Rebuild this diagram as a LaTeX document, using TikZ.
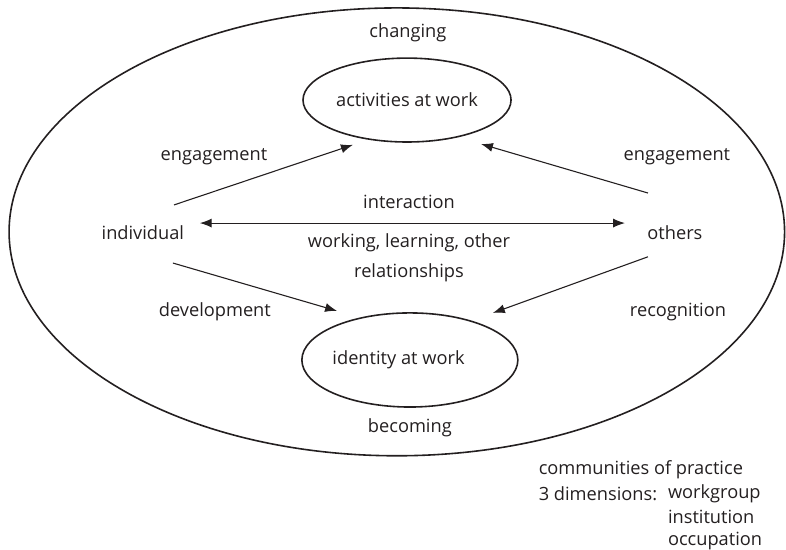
\documentclass[tikz,border=0pt]{standalone}
\usepackage{fontspec}
\setmainfont{Open Sans}
\usetikzlibrary{arrows.meta,shapes.geometric}
\definecolor{inkgrey}{HTML}{231F20}
\tikzset{
  ring/.style={draw=inkgrey,line width=1.6pt},
  arr/.style={draw=inkgrey,line width=1.1pt,-{Latex[length=4.2mm,width=3.2mm]}},
  darr/.style={draw=inkgrey,line width=1.1pt,{Latex[length=4.2mm,width=3.2mm]}-{Latex[length=4.2mm,width=3.2mm]}},
  lbl/.style={text=inkgrey,inner sep=0pt}
}
\begin{document}
\begin{tikzpicture}[font=\fontsize{18.3}{22}\selectfont]
            \useasboundingbox (0,0) rectangle (27.73,19.40);
            \draw[ring] (14.00,11.22) ellipse [x radius=13.68,y radius=7.90];
            \node[ring,ellipse,minimum width=7.34cm,minimum height=2.96cm,lbl] (act) at (14.36,15.87) {activities at work};
            \node[ring,ellipse,minimum width=7.62cm,minimum height=3.32cm,lbl] (ident) at (14.46,6.70) {\hspace*{-0.8cm}identity at work};
            \node[lbl] (chg) at (14.39,18.24) {changing};
            \node[lbl] (bec) at (14.46,4.30) {becoming};
            \node[lbl] (ind) at (5.04,11.18) {individual};
            \node[lbl] (oth) at (23.81,11.18) {others};
            \node[lbl] (engl) at (7.55,13.86) {engagement};
            \node[lbl] (engr) at (23.88,13.86) {engagement};
            \node[lbl] (devl) at (7.58,8.40) {development};
            \node[lbl] (recg) at (23.92,8.40) {recognition};
            \node[lbl] (inter) at (14.43,12.28) {interaction};
            \node[lbl] (wrk) at (14.43,10.83) {working, learning, other};
            \node[lbl] (rel) at (14.43,9.77) {relationships};
            % arrow ends
            \coordinate (ind-up) at (6.14,12.17);
            \coordinate (ind-mid) at (7.05,11.53);
            \coordinate (ind-dn) at (6.10,10.12);
            \coordinate (oth-up) at (22.86,12.59);
            \coordinate (oth-mid) at (22.05,11.53);
            \coordinate (oth-dn) at (22.86,10.34);
            \coordinate (act-l) at (12.45,14.29);
            \coordinate (act-r) at (16.97,14.32);
            \coordinate (ident-l) at (11.89,8.43);
            \coordinate (ident-r) at (17.39,8.36);
            \draw[arr] (ind-up) -- (act-l);
            \draw[arr] (oth-up) -- (act-r);
            \draw[darr] (ind-mid) -- (oth-mid);
            \draw[arr] (ind-dn) -- (ident-l);
            \draw[arr] (oth-dn) -- (ident-r);
            % communities of practice
            \node[lbl,anchor=west] (cop) at (19.00,2.82) {communities of practice};
            \node[lbl,anchor=west] (dim) at (19.00,1.98) {3 dimensions:};
            \node[lbl,anchor=west] (wg) at (23.56,1.98) {workgroup};
            \node[lbl,anchor=west] (inst) at (23.56,1.16) {institution};
            \node[lbl,anchor=west] (occ) at (23.56,0.32) {occupation};
        \end{tikzpicture}
\end{document}
